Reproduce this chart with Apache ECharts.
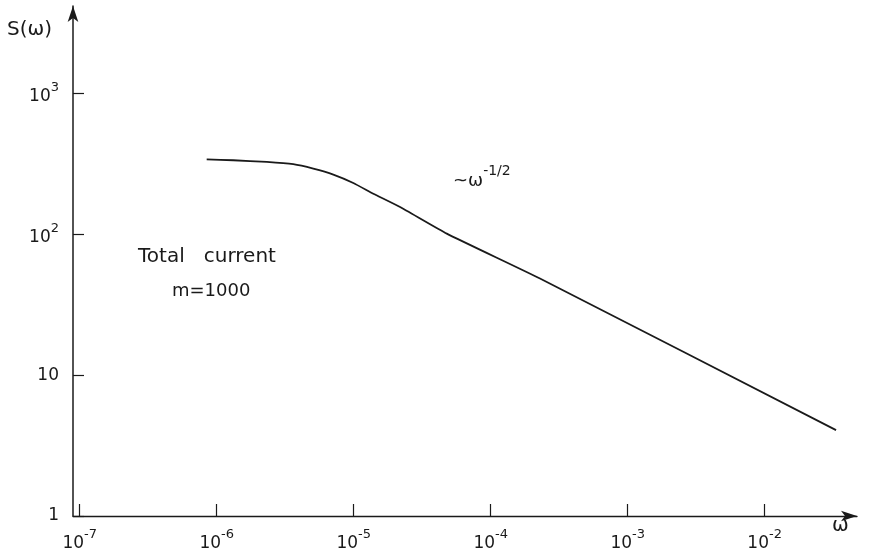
<!DOCTYPE html>
<html>
<head>
<meta charset="utf-8">
<script src="https://cdn.jsdelivr.net/npm/echarts@6/dist/echarts.min.js"></script>
<style>
html,body{margin:0;padding:0;background:#fff;}
#main{width:870px;height:554px;}
</style>
</head>
<body>
<div id="main"></div>
<script>
// spectrum S(w) vs w
var omega = [8.45e-7, 1.32e-6, 2.32e-6, 3.62e-6, 5.07e-6, 7.1e-6, 9.93e-6, 1.39e-5, 2.18e-5, 4.78e-5, 2.29e-4, 3.32e-2];
var sValues = [340, 335, 326, 314, 292, 265, 231, 194, 156, 101, 48.5, 4.07];
var xTicks = [1e-7, 1e-6, 1e-5, 1e-4, 1e-3, 1e-2];
var yTicks = [1, 10, 100, 1000];

var FONT = 'DejaVu Sans';
var INK = '#1a1a1a';

var pts = [];
for (var i = 0; i < omega.length; i++) {
	pts.push([omega[i], sValues[i]]);
}

function powLabel(v) {
	var e = Math.round(Math.log(v) / Math.LN10);
	if (e == 0) { return '1'; }
	if (e == 1) { return '10'; }
	return '{b|10}{s|' + e + '}';
}

var richSup = {
	b: {fontSize: 17, lineHeight: 24, verticalAlign: 'bottom', color: INK, fontFamily: FONT},
	s: {fontSize: 13, lineHeight: 24, verticalAlign: 'top', color: INK, fontFamily: FONT}
};

var chart = echarts.init(document.getElementById('main'));
var option = {
	animation: false,
	backgroundColor: '#fff',
	grid: {left: 73, right: 13, top: 6, bottom: 38, containLabel: false, outerBoundsMode: 'none'},
	xAxis: {
		type: 'log',
		min: Math.pow(10, -7.049),
		max: Math.pow(10, -1.326),
		splitLine: {show: false},
		axisLine: {
			onZero: false,
			symbol: ['none', 'arrow'],
			symbolSize: [8, 16],
			lineStyle: {color: INK, width: 1.3}
		},
		axisTick: {inside: true, length: 12, customValues: xTicks, lineStyle: {color: INK, width: 1.2}},
		axisLabel: {
			margin: 12,
			customValues: xTicks,
			formatter: powLabel,
			rich: richSup,
			fontSize: 17,
			fontFamily: FONT,
			color: INK
		},
		minorTick: {show: false}
	},
	yAxis: {
		type: 'log',
		min: 1,
		max: Math.pow(10, 3.62),
		splitLine: {show: false},
		axisLine: {
			onZero: false,
			symbol: ['none', 'arrow'],
			symbolSize: [8, 16],
			lineStyle: {color: INK, width: 1.5}
		},
		axisTick: {inside: true, length: 11, customValues: yTicks, lineStyle: {color: INK, width: 1.2}},
		axisLabel: {
			margin: 14,
			customValues: yTicks,
			formatter: powLabel,
			rich: richSup,
			fontSize: 17,
			fontFamily: FONT,
			color: INK
		}
	},
	series: [{
		type: 'line',
		data: pts,
		smooth: 0.15,
		showSymbol: false,
		lineStyle: {color: INK, width: 1.8}
	}],
	graphic: [
		{type: 'text', left: 7, top: 20, style: {text: 'S(ω)', font: '20px ' + FONT, fill: INK}},
		{type: 'text', left: 832, top: 516, style: {text: 'ω', font: '20px ' + FONT, fill: INK}},
		{type: 'text', left: 138, top: 247, style: {text: 'Total   current', font: '20px ' + FONT, fill: INK}},
		{type: 'text', left: 172, top: 282, style: {text: 'm=1000', font: '18px ' + FONT, fill: INK}},
		{type: 'text', left: 453, top: 164, style: {
			text: '{b|~ω}{s|-1/2}',
			rich: {
				b: {fontSize: 18, lineHeight: 26, verticalAlign: 'bottom', fill: INK, fontFamily: FONT},
				s: {fontSize: 14, lineHeight: 26, verticalAlign: 'top', fill: INK, fontFamily: FONT}
			}
		}}
	]
};
chart.setOption(option);
</script>
</body>
</html>
